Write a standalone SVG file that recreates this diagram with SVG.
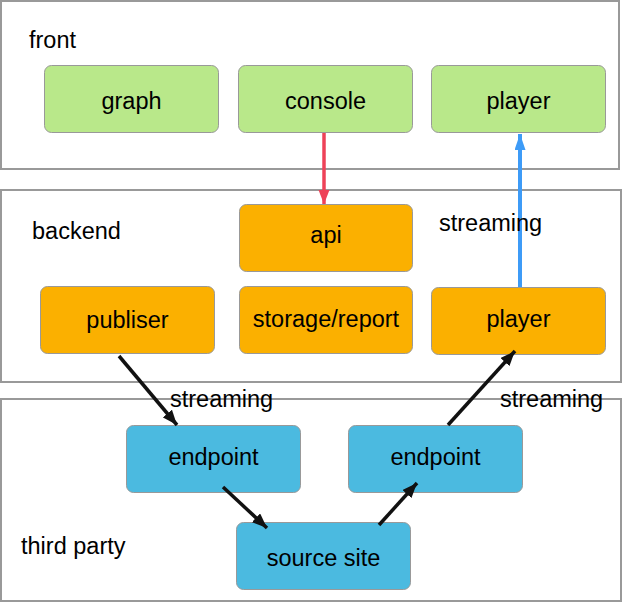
<svg xmlns="http://www.w3.org/2000/svg" width="622" height="603" viewBox="0 0 622 603">
<defs>
<style>
.cont{fill:#fff;stroke:#999;stroke-width:2}
.node{stroke:#999;stroke-width:1}
.g{fill:#b9e88a}
.o{fill:#fbb000}
.b{fill:#4bbae0}
text{font-family:"Liberation Sans",Arial,sans-serif;font-size:23.5px;fill:#000}
.c{text-anchor:middle}
.blk{stroke:#111;stroke-width:3.5;fill:none}
</style>
<marker id="ab" markerUnits="userSpaceOnUse" markerWidth="16" markerHeight="12" refX="15" refY="6" orient="auto">
<path d="M0,0 L15,6 L0,12 z" fill="#111"/>
</marker>
<marker id="ar" markerUnits="userSpaceOnUse" markerWidth="16" markerHeight="12" refX="14" refY="5.5" orient="auto">
<path d="M0,0 L14,5.5 L0,11 z" fill="#ee4258"/>
</marker>
<marker id="abl" markerUnits="userSpaceOnUse" markerWidth="18" markerHeight="12" refX="16" refY="5.5" orient="auto">
<path d="M0,0 L16,5.5 L0,11 z" fill="#3d9bf7"/>
</marker>
</defs>
<g id="containers">
<g id="front"><rect class="cont" x="1" y="1" width="618" height="168"/><text x="29" y="48">front</text></g>
<g id="backend"><rect class="cont" x="1" y="190" width="620" height="192"/><text x="32" y="239">backend</text></g>
<g id="thirdparty"><rect class="cont" x="1" y="399" width="620" height="202"/><text x="21" y="554">third party</text></g>
</g>
<g id="graph"><rect class="node g" x="44.5" y="65.5" width="174" height="67" rx="7"/><text class="c" x="131.5" y="109">graph</text></g>
<g id="console"><rect class="node g" x="238.5" y="65.5" width="174" height="67" rx="7"/><text class="c" x="325.5" y="109">console</text></g>
<g id="player-front"><rect class="node g" x="431.5" y="65.5" width="174" height="67" rx="7"/><text class="c" x="518.5" y="109">player</text></g>
<g id="api"><rect class="node o" x="239.5" y="204.5" width="173" height="67" rx="7"/><text class="c" x="326" y="243">api</text></g>
<g id="storage"><rect class="node o" x="239.5" y="286.5" width="173" height="67" rx="7"/><text class="c" x="326" y="327">storage/report</text></g>
<g id="publiser"><rect class="node o" x="40.5" y="286.5" width="174" height="67" rx="7"/><text class="c" x="127.5" y="328">publiser</text></g>
<g id="player-backend"><rect class="node o" x="431.5" y="287.5" width="174" height="67" rx="7"/><text class="c" x="518.5" y="327">player</text></g>
<g id="endpoint1"><rect class="node b" x="126.5" y="425.5" width="174" height="67" rx="7"/><text class="c" x="213.5" y="465">endpoint</text></g>
<g id="endpoint2"><rect class="node b" x="348.5" y="425.5" width="174" height="67" rx="7"/><text class="c" x="435.5" y="465">endpoint</text></g>
<g id="source"><rect class="node b" x="236.5" y="522.5" width="174" height="67" rx="7"/><text class="c" x="323.5" y="566">source site</text></g>
<g id="connectors">
<line x1="324" y1="133" x2="324" y2="204" stroke="#ee4258" stroke-width="3.5" marker-end="url(#ar)"/>
<line x1="520" y1="287" x2="520" y2="134" stroke="#3d9bf7" stroke-width="4" marker-end="url(#abl)"/>
<line class="blk" x1="119" y1="356" x2="177" y2="425" marker-end="url(#ab)"/>
<line class="blk" x1="223" y1="487" x2="267" y2="528" marker-end="url(#ab)"/>
<line class="blk" x1="379" y1="525" x2="417" y2="483" marker-end="url(#ab)"/>
<line class="blk" x1="448" y1="425" x2="515" y2="351" marker-end="url(#ab)"/>
<text x="439" y="231">streaming</text>
<text x="170" y="407">streaming</text>
<text x="500" y="407">streaming</text>
</g>
</svg>
